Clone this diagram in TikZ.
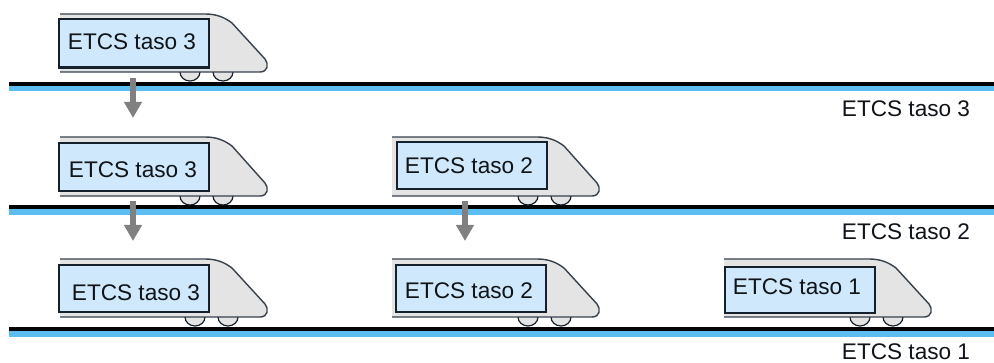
\documentclass[tikz,border=0pt]{standalone}
\usepackage{fontspec}
\setmainfont{Liberation Sans}
\usetikzlibrary{arrows.meta}
\definecolor{win}{HTML}{CFE8FB}
\definecolor{body}{HTML}{E4E4E4}
\definecolor{rail}{HTML}{5BBDF0}
\definecolor{ink}{HTML}{14202C}
\definecolor{txt}{HTML}{101418}
\definecolor{arr}{HTML}{808080}
\tikzset{
 x=1pt,y=-1pt,
 railtop/.style={draw=black!90!ink,line width=3.8pt},
 railblue/.style={draw=rail,line width=5.6pt},
 trainline/.style={draw=ink!85,line width=1.4pt},
 window/.style={draw=ink,line width=1.4pt,fill=win},
 wheel/.style={draw=ink,line width=1.2pt,fill=body},
 shift arrow/.style={draw=arr,line width=5.2pt,-{Triangle[length=16pt,width=17pt]}},
 tlabel/.style={font=\fontsize{22.6}{25}\selectfont,text=txt,inner sep=0pt},
 levellabel/.style={font=\fontsize{22.6}{25}\selectfont,text=txt,inner sep=0pt},
 % args: window x shift, wheel x shift, window top, window bottom, body height
 pics/train/.style n args={5}{code={
  \fill[body] (148,0) .. controls (156,1) and (164,3) .. (172,9) -- (205,#5-13) .. controls (209,#5-8) and (208,#5) .. (200,#5) -- (0,#5) -- (0,0) -- cycle;
  \draw[wheel] (120+#2,#5) arc[start angle=180,end angle=360,x radius=10,y radius=-9];
  \draw[wheel] (153+#2,#5) arc[start angle=180,end angle=360,x radius=10,y radius=-9];
  \draw[trainline] (0,0) -- (145,0) .. controls (156,0) and (164,3) .. (172,9) -- (205,#5-13) .. controls (209,#5-8) and (208,#5) .. (200,#5) -- (0,#5);
  \path[window] (#1-1,#3) rectangle (#1+149,#4);
 }}
}
\begin{document}
\begin{tikzpicture}
\useasboundingbox (0,0) rectangle (994,363);
% rails
\draw[railblue] (9,88.5) -- (994,88.5);
\draw[railtop] (9,84) -- (994,84);
\draw[railblue] (9,212) -- (994,212);
\draw[railtop] (9,207) -- (994,207);
\draw[railblue] (9,334) -- (994,334);
\draw[railtop] (9,329) -- (994,329);
% trains
\pic at (60,14) {train={0}{0}{5}{54}{58}};
\draw[ink,line width=2.6pt] (59,67) -- (209,67);
\pic at (60,137) {train={0}{0}{6}{54}{59}};
\pic at (392,137) {train={6}{6}{5}{52}{59}};
\pic at (60,259) {train={0}{5}{6}{53}{58}};
\pic at (392,259) {train={5}{6}{6}{53}{58}};
\pic at (724,259) {train={2}{6}{8}{54}{58}};
% train labels
\node[tlabel] (a) at (132,42) {ETCS taso 3};
\node[tlabel] (b) at (133,170) {ETCS taso 3};
\node[tlabel] (c) at (469,166) {ETCS taso 2};
\node[tlabel] (d) at (136,293) {ETCS taso 3};
\node[tlabel] (e) at (469,291) {ETCS taso 2};
\node[tlabel] (f) at (797,287) {ETCS taso 1};
% level labels
\node[levellabel] (l3) at (906,109) {ETCS taso 3};
\node[levellabel] (l2) at (906,232) {ETCS taso 2};
\node[levellabel] (l1) at (906,352) {ETCS taso 1};
% arrows
\coordinate (s1) at (133,78);
\coordinate (t1) at (133,118);
\coordinate (s2) at (133,201);
\coordinate (t2) at (133,241);
\coordinate (s3) at (465,201);
\coordinate (t3) at (465,241);
\draw[shift arrow] (s1) -- (t1);
\draw[shift arrow] (s2) -- (t2);
\draw[shift arrow] (s3) -- (t3);
\end{tikzpicture}
\end{document}
